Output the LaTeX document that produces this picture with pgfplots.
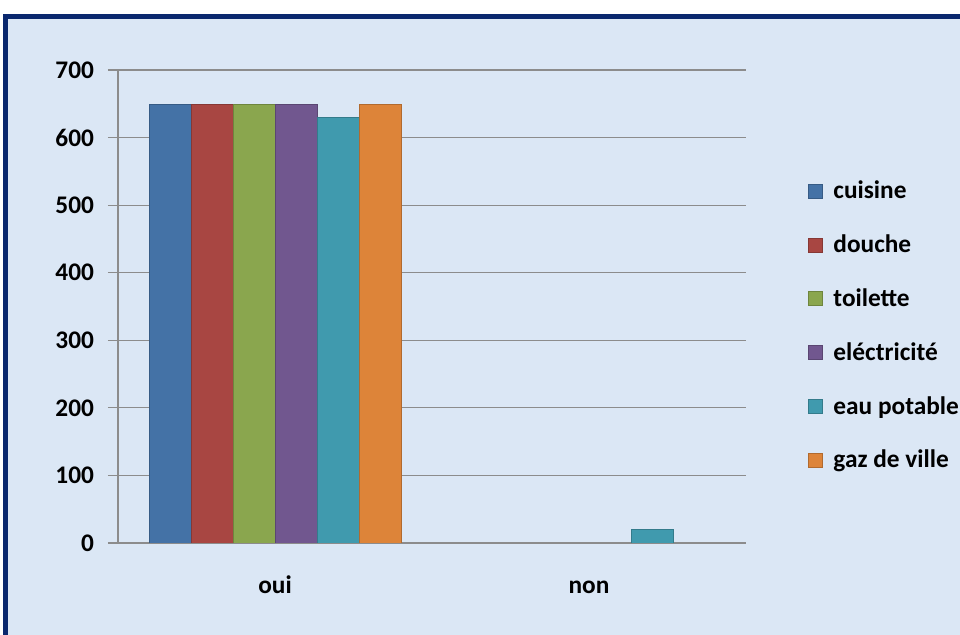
\documentclass[border=0pt]{standalone}
\usepackage{pgfplots}
\pgfplotsset{compat=1.18}
\usepackage{fontspec}
\setmainfont{Carlito}
\definecolor{bgblue}{RGB}{219,231,245}
\definecolor{frameblue}{RGB}{10,40,110}
\definecolor{cA}{RGB}{68,114,166}
\definecolor{cB}{RGB}{168,70,66}
\definecolor{cC}{RGB}{138,166,78}
\definecolor{cD}{RGB}{113,87,143}
\definecolor{cE}{RGB}{64,154,174}
\definecolor{cF}{RGB}{221,132,57}
\definecolor{gridgray}{RGB}{140,140,140}
\newcommand{\lbl}{\fontsize{19}{22}\selectfont\bfseries}
\begin{document}
\begin{tikzpicture}
\path[use as bounding box, fill=white] (0,0) rectangle (720pt,476.25pt);
\fill[frameblue] (2.25pt,0) rectangle (720pt,465.75pt);
\fill[bgblue] (6pt,0) rectangle (720pt,462pt);
\begin{axis}[
  at={(88.5pt,69pt)}, anchor=south west,
  scale only axis, width=471pt, height=354.75pt,
  ybar=0pt, bar width=31.5pt,
  xmin=-0.5, xmax=1.5, ymin=0, ymax=700,
  xtick={0,1}, xticklabels={oui,non},
  extra x ticks={-0.5,0.5,1.5}, extra x tick labels={},
  extra x tick style={major tick length=7.5pt, tick style={gridgray, line width=0.8pt}, tick align=outside, grid=none},
  x tick style={draw=none},
  ytick={0,100,...,700},
  y tick style={gridgray, line width=0.8pt},
  major tick length=7.5pt, tick align=outside,
  ymajorgrids, grid style={gridgray, line width=0.8pt},
  axis x line*=bottom, axis y line*=left,
  axis line style={gridgray, line width=0.8pt, -},
  tick label style={font=\lbl, text=black},
  /pgf/number format/assume math mode=true,
  yticklabel style={xshift=-7pt},
  xticklabel style={yshift=-20pt, text height=1.5ex, text depth=0.25ex},
  legend style={at={(rel axis cs:1.0987,0.4598)}, anchor=west, draw=none, fill=none, inner sep=0pt, font=\lbl, row sep=21.5pt, legend cell align=left,
    /tikz/every odd column/.append style={column sep=6pt}},
  legend image code/.code={\fill[#1] (0pt,-5.25pt) rectangle (10.5pt,5.25pt); \draw[#1, fill=none] (0pt,-5.25pt) rectangle (10.5pt,5.25pt);},
]
\addplot[fill=cA, draw=cA!80!black] coordinates {(0,650)};
\addplot[fill=cB, draw=cB!80!black] coordinates {(0,650)};
\addplot[fill=cC, draw=cC!80!black] coordinates {(0,650)};
\addplot[fill=cD, draw=cD!80!black] coordinates {(0,650)};
\addplot[fill=cE, draw=cE!80!black] coordinates {(0,630) (1,20)};
\addplot[fill=cF, draw=cF!80!black] coordinates {(0,650)};
\legend{cuisine,douche,toilette,eléctricité,eau potable,gaz de ville}
\end{axis}
\end{tikzpicture}
\end{document}
